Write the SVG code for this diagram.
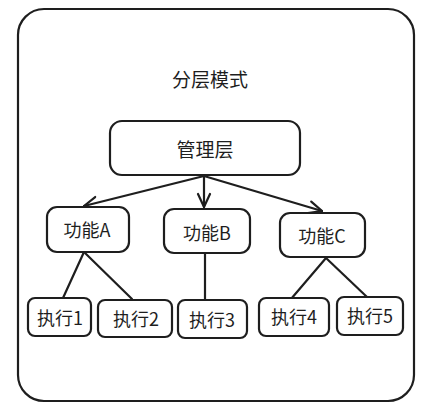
<svg xmlns="http://www.w3.org/2000/svg" width="429" height="412" viewBox="0 0 429 412">
<style>
.n{fill:#fff;stroke:#1e1e1e;stroke-width:2.2;}
.t{font-family:"Noto Sans CJK SC","Noto Sans",sans-serif;font-size:18px;fill:#1e1e1e;text-anchor:middle;dominant-baseline:central;}
.c line{stroke:#1e1e1e;stroke-width:2.2;fill:none;stroke-linecap:round;}
</style>
<defs>
<marker id="ah" viewBox="0 0 16 16" refX="15" refY="8" markerWidth="16" markerHeight="16" markerUnits="userSpaceOnUse" orient="auto">
<path d="M2,2 L15,8 L2,14" fill="none" stroke="#1e1e1e" stroke-width="2.2" stroke-linecap="round"/>
</marker>
</defs>
<rect width="429" height="412" fill="#fff"/>
<g id="frame">
<rect class="n" x="18" y="9" width="396" height="392" rx="26"/>
<text class="t" x="210" y="78" style="font-size:19px">分层模式</text>
</g>
<g class="c" id="connectors">
<line x1="204" y1="176" x2="84" y2="206" marker-end="url(#ah)"/>
<line x1="204" y1="176" x2="204" y2="207" marker-end="url(#ah)"/>
<line x1="204" y1="176" x2="322" y2="211" marker-end="url(#ah)"/>
<line x1="84" y1="252" x2="63" y2="298"/>
<line x1="84" y1="252" x2="132" y2="299"/>
<line x1="205" y1="254" x2="205" y2="300"/>
<line x1="326" y1="258" x2="291" y2="299"/>
<line x1="326" y1="258" x2="367" y2="297"/>
</g>
<g id="mgr"><rect class="n" x="110" y="121" width="190" height="54" rx="12"/><text class="t" x="205" y="148" style="font-size:19px">管理层</text></g>
<g id="fa"><rect class="n" x="47" y="207" width="82" height="45" rx="10"/><text class="t" x="87" y="229">功能A</text></g>
<g id="fb"><rect class="n" x="164" y="209" width="86" height="44" rx="10"/><text class="t" x="207" y="232">功能B</text></g>
<g id="fc"><rect class="n" x="280" y="213" width="85" height="44" rx="10"/><text class="t" x="322" y="235">功能C</text></g>
<g id="e1"><rect class="n" x="28" y="298" width="63" height="38" rx="7"/><text class="t" x="60" y="317">执行1</text></g>
<g id="e2"><rect class="n" x="98" y="300" width="74" height="37" rx="7"/><text class="t" x="136" y="318">执行2</text></g>
<g id="e3"><rect class="n" x="178" y="300" width="69" height="38" rx="7"/><text class="t" x="212" y="319">执行3</text></g>
<g id="e4"><rect class="n" x="259" y="298" width="70" height="38" rx="7"/><text class="t" x="294" y="316">执行4</text></g>
<g id="e5"><rect class="n" x="337" y="297" width="66" height="38" rx="7"/><text class="t" x="370" y="315">执行5</text></g>
</svg>
